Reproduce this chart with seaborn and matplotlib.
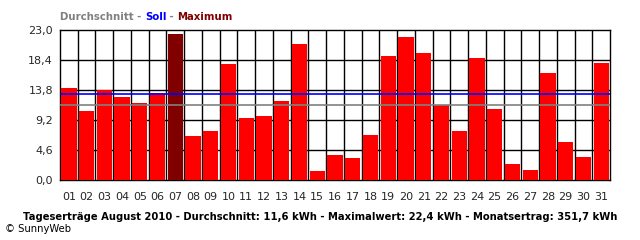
import matplotlib
matplotlib.use("Agg")
import matplotlib.pyplot as plt
import seaborn as sns
import numpy as np
import pandas as pd

days = [f"{d:02d}" for d in range(1, 32)]
values = [14.1, 10.6, 13.8, 12.8, 11.8, 13.3, 22.4, 6.8, 7.5, 17.8,
          9.55, 9.86, 12.1, 20.9, 1.4, 3.9, 3.4, 6.95, 19.0, 21.9,
          19.5, 11.45, 7.56, 18.7, 10.9, 2.5, 1.6, 16.45, 5.83, 3.6, 18.0]
soll = 13.15
durchschnitt = 11.5
yticks = [0.0, 4.6, 9.2, 13.8, 18.4, 23.0]
ytick_labels = ["0,0", "4,6", "9,2", "13,8", "18,4", "23,0"]

sns.set_style("white")
plt.rcParams['font.family'] = ['DejaVu Sans']

fig = plt.figure(figsize=(6.4, 2.4), dpi=100)
ax = fig.add_axes([60/640, 60/240, 550/640, 150/240])

maxv = max(values)
palette = {d: ("#800000" if v == maxv else "#ff0000") for d, v in zip(days, values)}
df = pd.DataFrame({"day": days, "value": values})
sns.barplot(data=df, x="day", y="value", hue="day", palette=palette, legend=False,
            width=0.86, saturation=1, ax=ax, edgecolor="none", linewidth=0, zorder=3)

ax.set_xlim(-0.5, len(days) - 0.5)
ax.set_ylim(0, 23.0)
ax.set_yticks(yticks)
ax.set_yticklabels(ytick_labels, fontsize=8)
ax.set_xlabel("")
ax.set_ylabel("")
ax.tick_params(axis="x", which="major", length=0, labelsize=8, pad=9)
ax.set_xticks(np.arange(-0.5, len(days), 1.0), minor=True)
ax.tick_params(axis="x", which="minor", length=6, width=1, color="black", direction="out")
ax.tick_params(axis="y", which="major", length=3, width=1, color="black", pad=2)

ax.grid(False)
for x in np.arange(0.5, len(days) - 0.5, 1.0):
    ax.axvline(x, color="black", lw=1.0, zorder=1)
for y in yticks[1:-1]:
    ax.axhline(y, color="black", lw=1.0, zorder=1)

ax.axhline(soll, color="#0000ff", lw=1.2, zorder=4)
ax.axhline(durchschnitt, color="#808080", lw=1.2, zorder=4)

for s in ax.spines.values():
    s.set_visible(True)
    s.set_color("black")
    s.set_linewidth(1.0)

# header legend text, coloured pieces
x0 = 60/640
y0 = 1 - 17/240
hsize = 7.3
parts = [("Durchschnitt - ", "#808080"), ("Soll", "#0000ff"),
         (" - ", "#808080"), ("Maximum", "#800000")]
fig.canvas.draw()
renderer = fig.canvas.get_renderer()

def text_width(s):
    tmp = fig.text(0, 0, s, fontsize=hsize, fontweight="bold")
    w = tmp.get_window_extent(renderer).width
    tmp.remove()
    return w

ref_w = text_width("x")
cur = x0
for txt, col in parts:
    fig.text(cur, y0, txt, color=col, fontsize=hsize, fontweight="bold", va="center")
    w = text_width(txt + "x") - ref_w
    cur += w / fig.bbox.width

fig.text(320/640, 1 - 217/240,
         "Tageserträge August 2010 - Durchschnitt: 11,6 kWh - Maximalwert: 22,4 kWh - Monatsertrag: 351,7 kWh",
         ha="center", va="center", fontsize=7.2, fontweight="bold", color="black")
fig.text(5/640, 1 - 229/240, "© SunnyWeb", ha="left", va="center", fontsize=7.2, color="black")

fig.savefig("out.png", dpi=100)
